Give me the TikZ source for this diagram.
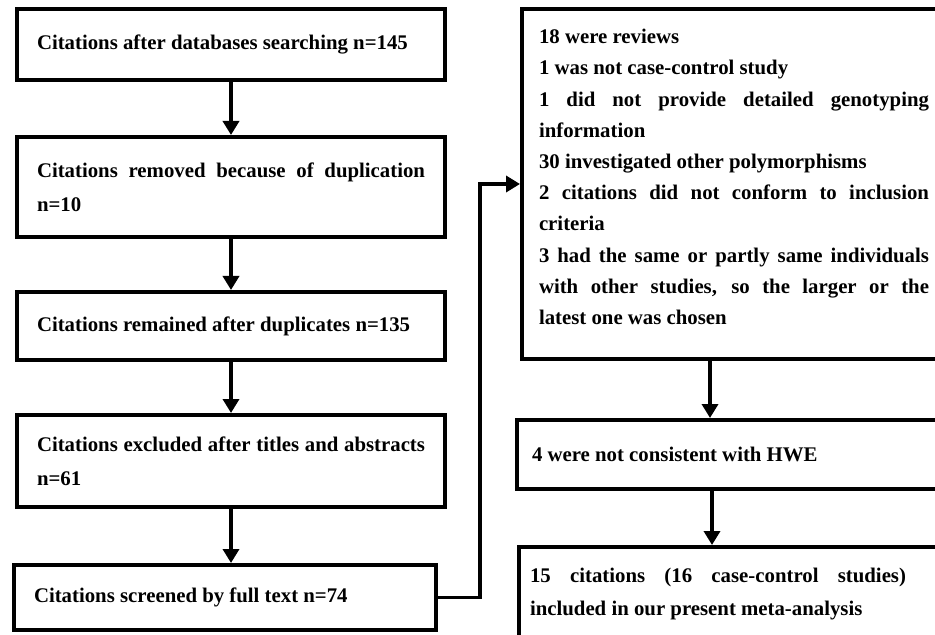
\documentclass[tikz,border=0pt]{standalone}
\usepackage{fontspec}
\setmainfont{Liberation Serif}
\usepackage{tikz}
\usetikzlibrary{arrows.meta,positioning}
\hyphenpenalty=10000
\exhyphenpenalty=10000

\begin{document}
\begin{tikzpicture}[x=0.5pt, y=-0.5pt,
		basic/.style = {draw, line width=2pt, rectangle, anchor=north west, inner ysep=0pt, align=justify},
		lbox/.style  = {basic, text width=194pt, inner xsep=10pt, font=\fontsize{10.4}{17}\selectfont\bfseries},
		rbox/.style  = {basic, font=\fontsize{10.4}{15.6}\selectfont\bfseries},
		flow/.style  = {-{Triangle[width=8pt,length=7pt]}, line width=1.8pt},
		>=latex]
		
		\useasboundingbox (0,0) rectangle (935,635);
		\clip (0,0) rectangle (935,635);
		
		% Left column, one box under the other
		\node[lbox, minimum height=35.5pt] (b1) at (15,7) {Citations after databases searching n=145};
		\node[lbox, minimum height=50pt] (b2) at (15,135) {Citations removed because of duplication n=10};
		\node[lbox, minimum height=34pt] (b3) at (15,290) {Citations remained after duplicates n=135};
		\node[lbox, minimum height=46pt] (b4) at (15,413) {Citations excluded after titles and abstracts n=61};
		\node[lbox, minimum height=32.5pt, text width=191pt] (b5) at (12,563) {Citations screened by full text n=74};
		
		% Right column, boxes run past the edge
		\node[rbox, text width=195pt, inner xsep=8.5pt, minimum height=175pt] (r1) at (520,7) {18 were reviews\\
			1 was not case-control study\\
			1 did not provide detailed genotyping information\\
			30 investigated other polymorphisms\\
			2 citations did not conform to inclusion criteria\\
			3 had the same or partly same individuals with other studies, so the larger or the\linebreak latest one was chosen\par\kern7pt};
		\node[rbox, text width=200pt, inner xsep=7.5pt, minimum height=34.5pt] (r2) at (515,418) {4 were not consistent with HWE};
		\node[rbox, align=left, inner xsep=5.5pt, minimum height=47pt, font=\fontsize{10.4}{16.5}\selectfont\bfseries] (r3) at (517,545) {\parbox{188pt}{15 citations (16 case-control studies) included in our present meta-analysis}\hspace{20pt}};
		
		% Arrows down the left column
		\foreach \a/\b in {b1/b2,b2/b3,b3/b4,b4/b5}
		\draw[flow] (\a.south) -- (\a.south |- \b.north);
		
		% Across to the right column
		\draw[flow] (b5.east) -- ++(42,0) |- (r1.west);
		
		\coordinate (a1) at ([xshift=-12pt]r1.south);
		\coordinate (a2) at ([xshift=-10pt]r2.south);
		\draw[flow] (a1) -- (a1 |- r2.north);
		\draw[flow] (a2) -- (a2 |- r3.north);
		
	\end{tikzpicture}
\end{document}
